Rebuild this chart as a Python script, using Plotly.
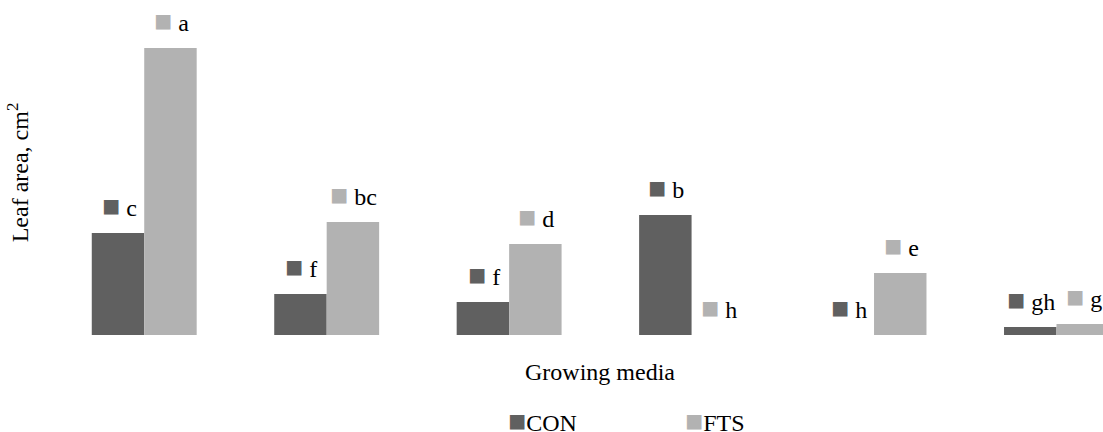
import plotly.graph_objects as go

# Growing media (category names are not displayed on the axis)
media = ["Medium 1", "Medium 2", "Medium 3", "Medium 4", "Medium 5", "Medium 6"]

# Leaf area, cm2, for the two treatments
con_area = [102, 41, 33, 120, 0, 8]
fts_area = [287, 113, 91, 0, 62, 11]

# Significance letters shown above each bar
con_letters = ["c", "f", "f", "b", "h", "gh"]
fts_letters = ["a", "bc", "d", "h", "e", "g"]

CON_COLOR = "#606060"
FTS_COLOR = "#b2b2b2"
FONT = "Times New Roman"
BARGAP = 0.425

fig = go.Figure()
fig.add_bar(name="CON", x=media, y=con_area, marker=dict(color=CON_COLOR, line_width=0))
fig.add_bar(name="FTS", x=media, y=fts_area, marker=dict(color=FTS_COLOR, line_width=0))

# half of a bar's width in category units -> centre offset of each bar in its group
half = (1 - BARGAP) / 4


def key(color, size=30):
    return f'<span style="color:{color};font-size:{size}px">■</span>'


annotations = []
for i, (v, lt) in enumerate(zip(con_area, con_letters)):
    annotations.append(dict(
        x=i - half, y=v, xref="x", yref="y", showarrow=False,
        text=f'{key(CON_COLOR)} {lt}',
        yanchor="middle", yshift=28, xshift=1,
        font=dict(family=FONT, size=24, color="black"),
    ))
for i, (v, lt) in enumerate(zip(fts_area, fts_letters)):
    annotations.append(dict(
        x=i + half, y=v, xref="x", yref="y", showarrow=False,
        text=f'{key(FTS_COLOR)} {lt}',
        yanchor="middle", yshift=28, xshift=1,
        font=dict(family=FONT, size=24, color="black"),
    ))

# x-axis title centred under the six groups
annotations.append(dict(
    x=(len(media) - 1) / 2, y=-0.115, xref="x", yref="paper", showarrow=False,
    text="Growing media", yanchor="middle",
    font=dict(family=FONT, size=24, color="black"),
))

# legend entries below the axis title
for name, color, xpos in [("CON", CON_COLOR, 0.431), ("FTS", FTS_COLOR, 0.6)]:
    annotations.append(dict(
        x=xpos, y=-0.262, xref="paper", yref="paper", showarrow=False,
        text=f'{key(color)}{name}', xanchor="left", yanchor="middle",
        font=dict(family=FONT, size=24, color="black"),
    ))

fig.update_layout(
    width=1103, height=432,
    margin=dict(l=53, r=0, t=10, b=97, autoexpand=False),
    paper_bgcolor="white", plot_bgcolor="white",
    barmode="group", bargap=BARGAP, bargroupgap=0,
    font=dict(family=FONT, size=24, color="black"),
    showlegend=False,
    annotations=annotations,
)
fig.update_xaxes(
    range=[-0.5, 5.255], showticklabels=False, showline=False,
    showgrid=False, zeroline=False, ticks="", automargin=False,
)
fig.update_yaxes(
    range=[0, 325], showticklabels=False, showline=False,
    showgrid=False, zeroline=False, ticks="", automargin=False,
    title=dict(text="Leaf area, cm<sup>2</sup>", standoff=16,
               font=dict(family=FONT, size=24, color="black")),
)

fig.write_html("out.html")
